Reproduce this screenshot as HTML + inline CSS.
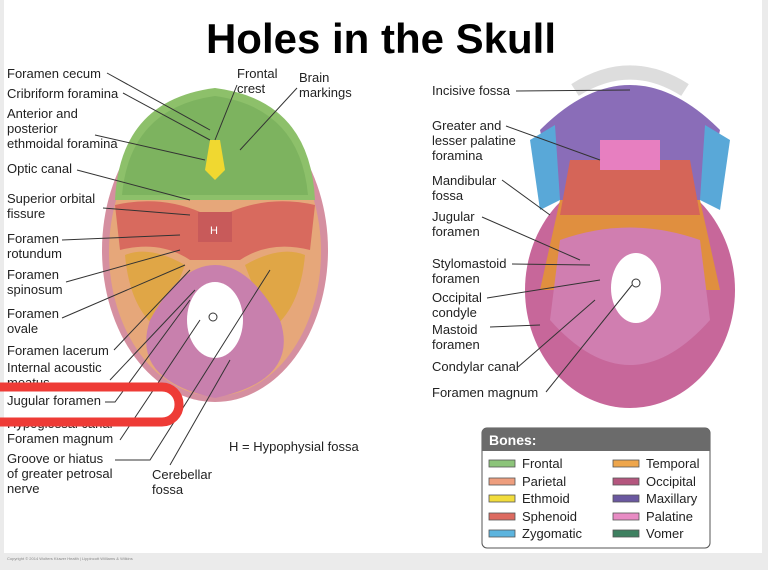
<!DOCTYPE html>
<html><head><meta charset="utf-8"><style>
html,body{margin:0;padding:0;background:#ebebeb;}
svg{display:block;}
text{font-family:"Liberation Sans",sans-serif;font-size:13px;fill:#222;}
</style></head><body>
<svg width="768" height="570" viewBox="0 0 768 570">
<rect x="0" y="0" width="768" height="570" fill="#ebebeb"/>
<rect x="4" y="0" width="758" height="553" fill="#fff"/>
<text x="381" y="53" text-anchor="middle" style="font-size:42px;font-weight:bold;fill:#000">Holes in the Skull</text>

<!-- left skull -->
<g>
<ellipse cx="215" cy="250" rx="113" ry="152" fill="#d58fa0"/>
<ellipse cx="215" cy="252" rx="106" ry="144" fill="#e6a77a"/>
<path d="M115 200 Q120 100 215 88 Q310 100 315 200 Z" fill="#8dc06a"/>
<path d="M122 195 Q130 108 215 96 Q300 108 308 195 Z" fill="#7db35f"/>
<path d="M115 205 Q160 195 200 212 L230 212 Q270 195 315 205 L310 250 Q270 240 240 260 L190 260 Q160 240 120 250 Z" fill="#d86a5e"/>
<path d="M125 255 Q150 245 185 265 L160 330 Q130 310 125 255Z" fill="#e0a646"/>
<path d="M305 255 Q280 245 245 265 L270 330 Q300 310 305 255Z" fill="#e0a646"/>
<path d="M150 320 Q180 265 215 265 Q250 265 280 320 Q300 380 215 398 Q130 380 150 320Z" fill="#c880ad"/>
<ellipse cx="215" cy="320" rx="28" ry="38" fill="#fff"/>
<circle cx="213" cy="317" r="4" fill="#fff" stroke="#333"/>
<rect x="198" y="212" width="34" height="30" fill="#c85a5a"/>
<text x="210" y="234" style="fill:#fff;font-size:11px">H</text>
<path d="M210 140 L220 140 L225 170 L215 180 L205 170Z" fill="#f0d830"/>
</g>

<!-- right skull -->
<g>
<ellipse cx="630" cy="290" rx="105" ry="118" fill="#c7679a"/>
<path d="M540 130 Q630 40 720 130 L705 200 L555 200Z" fill="#8a6db8"/>
<path d="M560 200 L700 200 L720 290 L540 290Z" fill="#e08f3f"/>
<path d="M570 160 L690 160 L700 215 L560 215Z" fill="#d56558"/>
<rect x="600" y="140" width="60" height="30" fill="#e77fc0"/>
<path d="M530 140 L555 125 L560 200 L540 210Z" fill="#59a8d8"/>
<path d="M730 140 L705 125 L700 200 L720 210Z" fill="#59a8d8"/>
<path d="M560 240 Q630 215 700 240 L710 320 Q630 410 550 320Z" fill="#d07eb0"/>
<ellipse cx="636" cy="288" rx="25" ry="35" fill="#fff"/>
<circle cx="636" cy="283" r="4" fill="#fff" stroke="#333"/>
<path d="M575 90 Q630 55 685 90" fill="none" stroke="#ddd" stroke-width="14"/>
</g>

<!-- left labels -->
<g>
<text x="7" y="78">Foramen cecum</text>
<text x="7" y="98">Cribriform foramina</text>
<text x="7" y="118">Anterior and</text>
<text x="7" y="133">posterior</text>
<text x="7" y="148">ethmoidal foramina</text>
<text x="7" y="173">Optic canal</text>
<text x="7" y="203">Superior orbital</text>
<text x="7" y="218">fissure</text>
<text x="7" y="243">Foramen</text>
<text x="7" y="258">rotundum</text>
<text x="7" y="279">Foramen</text>
<text x="7" y="294">spinosum</text>
<text x="7" y="318">Foramen</text>
<text x="7" y="333">ovale</text>
<text x="7" y="355">Foramen lacerum</text>
<text x="7" y="372">Internal acoustic</text>
<text x="7" y="387">meatus</text>
<text x="7" y="405">Jugular foramen</text>
<text x="7" y="428">Hypoglossal canal</text>
<text x="7" y="443">Foramen magnum</text>
<text x="7" y="463">Groove or hiatus</text>
<text x="7" y="478">of greater petrosal</text>
<text x="7" y="493">nerve</text>
<text x="152" y="479">Cerebellar</text>
<text x="152" y="494">fossa</text>
<text x="229" y="451">H = Hypophysial fossa</text>
<text x="237" y="78">Frontal</text>
<text x="237" y="93">crest</text>
<text x="299" y="82">Brain</text>
<text x="299" y="97">markings</text>
</g>
<g stroke="#333" stroke-width="1" fill="none">
<path d="M107 73 L210 130"/><path d="M123 93 L210 140"/>
<path d="M95 135 L205 160"/><path d="M77 170 L190 200"/>
<path d="M103 208 L190 215"/><path d="M62 240 L180 235"/>
<path d="M66 282 L180 250"/><path d="M62 318 L185 265"/>
<path d="M114 350 L190 270"/><path d="M110 380 L195 290"/>
<path d="M105 402 L115 402 L190 300"/><path d="M120 440 L200 320"/>
<path d="M115 460 L150 460 L270 270"/><path d="M170 465 L230 360"/>
<path d="M237 85 L215 140"/><path d="M297 88 L240 150"/>
</g>

<!-- red highlight -->
<rect x="-25" y="387" width="204" height="35" rx="17" fill="none" stroke="#ee3b36" stroke-width="9"/>

<!-- right labels -->
<g>
<text x="432" y="95">Incisive fossa</text>
<text x="432" y="130">Greater and</text>
<text x="432" y="145">lesser palatine</text>
<text x="432" y="160">foramina</text>
<text x="432" y="185">Mandibular</text>
<text x="432" y="200">fossa</text>
<text x="432" y="221">Jugular</text>
<text x="432" y="236">foramen</text>
<text x="432" y="268">Stylomastoid</text>
<text x="432" y="283">foramen</text>
<text x="432" y="302">Occipital</text>
<text x="432" y="317">condyle</text>
<text x="432" y="334">Mastoid</text>
<text x="432" y="349">foramen</text>
<text x="432" y="371">Condylar canal</text>
<text x="432" y="397">Foramen magnum</text>
</g>
<g stroke="#333" stroke-width="1" fill="none">
<path d="M516 91 L630 90"/><path d="M506 126 L600 160"/>
<path d="M502 180 L550 215"/><path d="M482 217 L580 260"/>
<path d="M512 264 L590 265"/><path d="M487 298 L600 280"/>
<path d="M490 327 L540 325"/><path d="M518 367 L595 300"/>
<path d="M546 392 L632 285"/>
</g>

<!-- legend -->
<rect x="482" y="428" width="228" height="120" rx="5" fill="#fff" stroke="#555"/>
<path d="M482 451 L482 433 Q482 428 487 428 L705 428 Q710 428 710 433 L710 451Z" fill="#6b6b6b"/>
<text x="489" y="445" style="fill:#fff;font-weight:bold;font-size:14px">Bones:</text>
<g stroke="#555" stroke-width="0.8">
<rect x="489" y="460" width="26" height="7" fill="#8cc47a"/>
<rect x="489" y="478" width="26" height="7" fill="#ee9e7e"/>
<rect x="489" y="495" width="26" height="7" fill="#f1dc3c"/>
<rect x="489" y="513" width="26" height="7" fill="#dc6a60"/>
<rect x="489" y="530" width="26" height="7" fill="#5cb4de"/>
<rect x="613" y="460" width="26" height="7" fill="#eea64c"/>
<rect x="613" y="478" width="26" height="7" fill="#b4567e"/>
<rect x="613" y="495" width="26" height="7" fill="#6a58a0"/>
<rect x="613" y="513" width="26" height="7" fill="#e88cc4"/>
<rect x="613" y="530" width="26" height="7" fill="#3e8060"/>
</g>
<text x="522" y="468">Frontal</text><text x="522" y="486">Parietal</text>
<text x="522" y="503">Ethmoid</text><text x="522" y="521">Sphenoid</text>
<text x="522" y="538">Zygomatic</text>
<text x="646" y="468">Temporal</text><text x="646" y="486">Occipital</text>
<text x="646" y="503">Maxillary</text><text x="646" y="521">Palatine</text>
<text x="646" y="538">Vomer</text>
<text x="7" y="560" style="font-size:4px;fill:#888">Copyright © 2014 Wolters Kluwer Health | Lippincott Williams &amp; Wilkins</text>
</svg>
</body></html>
